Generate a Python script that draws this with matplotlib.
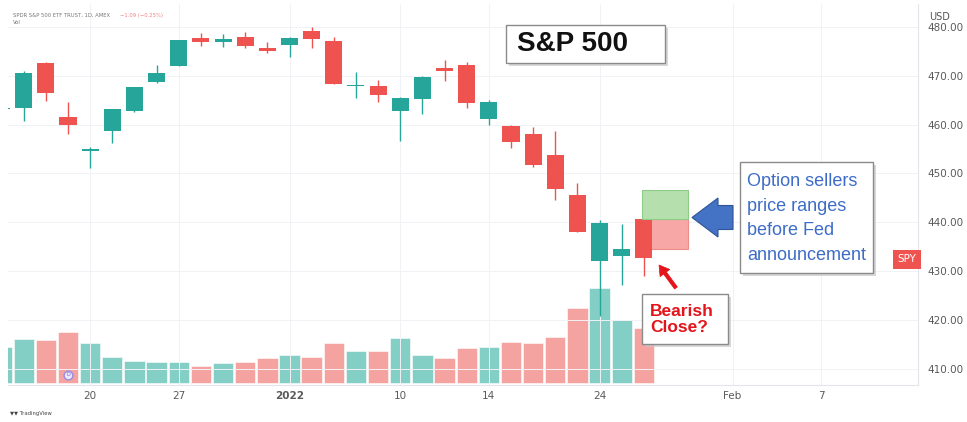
import matplotlib
matplotlib.use("Agg")
import matplotlib.pyplot as plt
from matplotlib.patches import Rectangle, FancyArrow
from matplotlib.transforms import IdentityTransform

# ---------------- data ----------------
sessions = ['Dec 14', 'Dec 15', 'Dec 16', 'Dec 17', 'Dec 20', 'Dec 21', 'Dec 22', 'Dec 23',
            'Dec 27', 'Dec 28', 'Dec 29', 'Dec 30', 'Dec 31', 'Jan 3', 'Jan 4', 'Jan 5',
            'Jan 6', 'Jan 7', 'Jan 10', 'Jan 11', 'Jan 12', 'Jan 13', 'Jan 14', 'Jan 18',
            'Jan 19', 'Jan 20', 'Jan 21', 'Jan 24', 'Jan 25', 'Jan 26',
            'Jan 27', 'Jan 28', 'Jan 31', 'Feb 1', 'Feb 2', 'Feb 3', 'Feb 4', 'Feb 7',
            'Feb 8', 'Feb 9', 'Feb 10', 'Feb 11']
opens  = [463.1, 463.4, 472.6, 461.6, 454.5, 458.6, 462.8, 468.8, 472.1, 477.7, 477.0, 477.9,
          475.6, 476.3, 479.2, 477.2, 467.9, 468.0, 462.7, 465.2, 471.6, 472.2, 461.2, 459.7,
          458.1, 453.8, 445.6, 432.0, 433.1, 440.7]
highs  = [465.7, 470.9, 472.9, 464.7, 455.4, 463.2, 467.8, 472.2, 477.3, 478.8, 478.6, 479.0,
          476.9, 477.9, 480.0, 478.0, 470.8, 469.2, 465.7, 469.9, 473.2, 472.9, 465.1, 460.0,
          459.6, 458.7, 448.1, 440.4, 439.7, 444.0]
lows   = [460.3, 460.7, 464.8, 458.1, 451.1, 456.3, 462.6, 468.6, 472.0, 476.1, 475.9, 475.7,
          474.7, 473.9, 475.6, 468.3, 465.4, 464.7, 456.6, 462.1, 468.9, 463.4, 459.9, 455.3,
          451.3, 444.5, 438.0, 420.8, 427.2, 429.0]
closes = [463.4, 470.6, 466.5, 459.9, 455.0, 463.1, 467.7, 470.6, 477.3, 476.9, 477.5, 476.2,
          475.0, 477.7, 477.6, 468.4, 467.9, 466.1, 465.5, 469.8, 471.0, 464.5, 464.7, 456.5,
          451.8, 446.8, 438.0, 439.8, 434.5, 432.6]
volumes = [95, 116, 114, 135, 106, 69, 58, 55, 56, 45, 53, 55, 65, 74, 69, 105, 85, 85,
           119, 74, 66, 92, 95, 108, 106, 121, 198, 251, 166, 145]  # millions

tick_sessions = ['Dec 20', 'Dec 27', 'Jan 3', 'Jan 10', 'Jan 14', 'Jan 24', 'Feb 1', 'Feb 7']
tick_labels = ['20', '27', '2022', '10', '14', '24', 'Feb', '7']
price_ticks = [410, 420, 430, 440, 450, 460, 470, 480]

upper_range = [440.7, 446.7]   # green option-seller range
lower_range = [434.5, 440.7]   # red option-seller range
range_span = ['Jan 26', 'Jan 27']
dividend_session = 'Dec 17'
last_price = 432.4

UP, DOWN = '#26A69A', '#EF5350'
UP_VOL, DOWN_VOL = '#83CFC6', '#F5A3A0'

# ---------------- figure ----------------
W, H = 967, 422
fig = plt.figure(figsize=(W / 100, H / 100), dpi=100)
fig.patch.set_facecolor('white')
ax = fig.add_axes([8 / W, 1 - 385 / H, (918 - 8) / W, (385 - 4) / H])
ax2 = ax.twinx()
ax.set_zorder(ax2.get_zorder() + 1)
ax.patch.set_visible(False)

n = len(opens)
xs = list(range(n))

# volume
vcol = [UP_VOL if c >= o else DOWN_VOL for o, c in zip(opens, closes)]
ax2.bar(xs, volumes, width=0.92, color=vcol, edgecolor='white', linewidth=0.4)
ax2.set_ylim(-5, 1000)
ax2.set_yticks([])
for s in ax2.spines.values():
    s.set_visible(False)

# candles
ccol = [UP if c >= o else DOWN for o, c in zip(opens, closes)]
ax.vlines(xs, lows, highs, colors=ccol, linewidth=1.0, zorder=3)
bottoms = [min(o, c) for o, c in zip(opens, closes)]
heights = [max(abs(c - o), 0.3) for o, c in zip(opens, closes)]
ax.bar(xs, heights, bottom=bottoms, width=0.77, color=ccol, zorder=4, linewidth=0)

# option seller ranges
x_left = sessions.index(range_span[0]) - 0.1
x_right = sessions.index(range_span[1]) + 1.0
ax.add_patch(Rectangle((x_left, lower_range[0]), x_right - x_left, lower_range[1] - lower_range[0],
                       facecolor='#F6A7A6', edgecolor='#EE8C8A', linewidth=0.8, zorder=2))
ax.add_patch(Rectangle((x_left, upper_range[0]), x_right - x_left, upper_range[1] - upper_range[0],
                       facecolor='#B5E0AE', edgecolor='#8ECB86', linewidth=0.8, zorder=5))

# dividend marker
dvx = sessions.index(dividend_session)
ax.scatter([dvx], [408.7], s=40, facecolor='#ECE8FB', edgecolor='#9A8BE0', linewidth=1.0, zorder=6)
ax.text(dvx, 408.7, 'D', fontsize=3.5, color='#6F5FD0', ha='center', va='center', zorder=7)

ax.set_xlim(1 + (8 - 23.7) / 22.15, 1 + (918 - 23.7) / 22.15)
ax.set_ylim(480 - (385 - 27) / 4.88, 480 + (27 - 4) / 4.88)

ax.yaxis.tick_right()
ax.set_yticks(price_ticks)
ax.set_yticklabels([f'{p:.2f}' for p in price_ticks])
ax.tick_params(axis='y', length=0, pad=7, labelsize=7.5, labelcolor='#5A5A5A')
ax.set_xticks([sessions.index(s) for s in tick_sessions])
ax.set_xticklabels(tick_labels)
ax.tick_params(axis='x', length=0, pad=4, labelsize=7.5, labelcolor='#5A5A5A')
ax.get_xticklabels()[2].set_fontweight('bold')
ax.grid(True, color='#F1F2F5', linewidth=0.7)
ax.set_axisbelow(True)
for k, s in ax.spines.items():
    s.set_visible(k in ('right', 'bottom'))
    s.set_color('#E3E5EA')
    s.set_linewidth(0.8)

# SPY price tag (sits just left of the price scale)
ylo, yhi = ax.get_ylim()
ax.text(0.9985, (last_price - ylo) / (yhi - ylo), 'SPY',
        transform=ax.transAxes, ha='right', va='center', fontsize=7.5, color='white',
        bbox=dict(boxstyle='square,pad=0.45', facecolor=DOWN, edgecolor='none'), zorder=8)

# ---------------- annotations (pixel helpers) ----------------
def fxp(px):
    return px / W

def fyp(py):
    return 1 - py / H

def box(x0, y0, x1, y1, edge='#8A8A8A'):
    fig.add_artist(Rectangle((fxp(x0 + 3), fyp(y1 + 3)), fxp(x1 - x0), (y1 - y0) / H,
                             transform=fig.transFigure, facecolor='#C8C8C8', edgecolor='none',
                             alpha=0.7, zorder=9))
    fig.add_artist(Rectangle((fxp(x0), fyp(y1)), fxp(x1 - x0), (y1 - y0) / H,
                             transform=fig.transFigure, facecolor='white', edgecolor=edge,
                             linewidth=1.0, zorder=10))

# header
fig.text(fxp(13), fyp(15), 'SPDR S&P 500 ETF TRUST, 1D, AMEX', fontsize=3.8, color='#777777',
         va='center', ha='left')
fig.text(fxp(120), fyp(15), '\u22121.09 (\u22120.25%)', fontsize=3.8, color='#F08080',
         va='center', ha='left')
fig.text(fxp(13), fyp(23), 'Vol', fontsize=3.8, color='#777777', va='center', ha='left')
fig.text(fxp(940), fyp(17), 'USD', fontsize=7, color='#555555', va='center', ha='center')
fig.text(fxp(10), fyp(414), '\u25BC\u25BC TradingView', fontsize=3.8, color='#444444',
         va='center', ha='left')

# S&P 500 box
box(506, 25, 665, 63)
fig.text(fxp(517), fyp(44), 'S&P 500', fontsize=20, fontweight='bold', color='#111111',
         family=['Liberation Sans', 'DejaVu Sans'], va='center', ha='left', zorder=11)

# option sellers box
box(740, 162, 873, 273)
fig.text(fxp(747), fyp(218.5), 'Option sellers\nprice ranges\nbefore Fed\nannouncement',
         fontsize=13, color='#3D6CC8', family=['Liberation Sans', 'DejaVu Sans'],
         va='center', ha='left', linespacing=1.6, zorder=11)

# bearish close box
box(642, 294, 728, 344)
fig.text(fxp(650), fyp(319.5), 'Bearish\nClose?', fontsize=12.5, fontweight='bold',
         color='#E3141B', family=['Liberation Sans', 'DejaVu Sans'],
         va='center', ha='left', linespacing=1.15, zorder=11)

# blue arrow (display pixels)
fig.add_artist(FancyArrow(733, H - 217.5, -41, 0, width=24, head_width=39, head_length=26,
                          length_includes_head=True, transform=IdentityTransform(),
                          facecolor='#4472C4', edgecolor='#2F5597', linewidth=0.8, zorder=11))

# red arrow
fig.add_artist(FancyArrow(676, H - 288, -17, 23, width=3.5, head_width=12, head_length=10,
                          length_includes_head=True, transform=IdentityTransform(),
                          facecolor='#E3141B', edgecolor='#E3141B', linewidth=0.5, zorder=11))

fig.savefig('out.png', dpi=100, facecolor='white')
